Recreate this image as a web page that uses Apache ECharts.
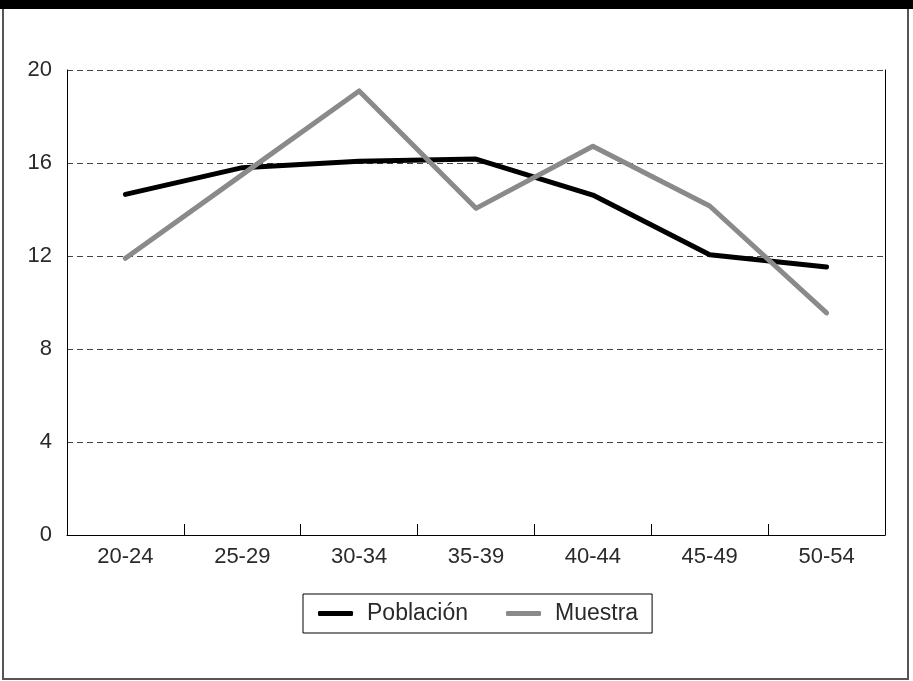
<!DOCTYPE html>
<html><head><meta charset="utf-8">
<script src="https://cdn.jsdelivr.net/npm/echarts@6/dist/echarts.min.js"></script>
<style>html,body{margin:0;padding:0;background:#fff}#c{width:913px;height:681px}</style>
</head><body><div id="c"></div>
<script>
const categories = ['20-24','25-29','30-34','35-39','40-44','45-49','50-54'];
const poblacion = [14.65, 15.8, 16.08, 16.17, 14.62, 12.05, 11.53];
const muestra = [11.9, 15.5, 19.1, 14.05, 16.72, 14.15, 9.55];
const yTicks = {min: 0, max: 20, interval: 4};
const seriesNames = ['Población', 'Muestra'];

const font = 'Liberation Sans, Arial, Helvetica, sans-serif';
const chart = echarts.init(document.getElementById('c'), null, {renderer: 'canvas'});
chart.setOption({
  animation: false,
  backgroundColor: '#fff',
  graphic: [
    {type: 'rect', shape: {x: 3, y: 1, width: 905, height: 678}, style: {fill: 'none', stroke: '#555', lineWidth: 2}, silent: true, z: 0},
    {type: 'rect', shape: {x: 0, y: 0, width: 913, height: 9}, style: {fill: '#000'}, silent: true, z: 10}
  ],
  grid: {left: 67, right: 28, top: 70, bottom: 146, containLabel: false},
  legend: {
    left: 303, top: 594,
    data: seriesNames,
    icon: 'roundRect',
    itemWidth: 35, itemHeight: 5, itemGap: 38,
    padding: [8, 14, 8, 15],
    borderColor: '#000', borderWidth: 1,
    textStyle: {fontFamily: font, fontSize: 23, color: '#2a2a2a', padding: [0, 0, 0, 9]}
  },
  xAxis: {
    type: 'category', data: categories, boundaryGap: true,
    axisLine: {show: true, lineStyle: {color: '#000', width: 1}},
    axisTick: {show: true, inside: true, length: 11, lineStyle: {color: '#000', width: 1}},
    axisLabel: {fontFamily: font, fontSize: 22, color: '#2a2a2a', margin: 11},
    splitLine: {show: false}
  },
  yAxis: [{
    type: 'value', min: yTicks.min, max: yTicks.max, interval: yTicks.interval,
    axisLine: {show: true, lineStyle: {color: '#000', width: 1}},
    axisTick: {show: false},
    axisLabel: {fontFamily: font, fontSize: 22, color: '#2a2a2a', margin: 15},
    splitLine: {show: true, lineStyle: {color: '#444', width: 1, type: [6, 4]}}
  }, {
    type: 'value', position: 'right', min: yTicks.min, max: yTicks.max, interval: yTicks.interval,
    axisLine: {show: true, lineStyle: {color: '#000', width: 1}},
    axisTick: {show: false}, axisLabel: {show: false}, splitLine: {show: false}
  }],
  series: [
    {name: seriesNames[0], type: 'line', data: poblacion, symbol: 'none', z: 3,
      itemStyle: {color: '#000'},
      lineStyle: {color: '#000', width: 5, cap: 'round', join: 'round'}},
    {name: seriesNames[1], type: 'line', data: muestra, symbol: 'none', z: 4,
      itemStyle: {color: '#8a8a8a'},
      lineStyle: {color: '#8a8a8a', width: 5, cap: 'round', join: 'round'}}
  ]
});
</script></body></html>
